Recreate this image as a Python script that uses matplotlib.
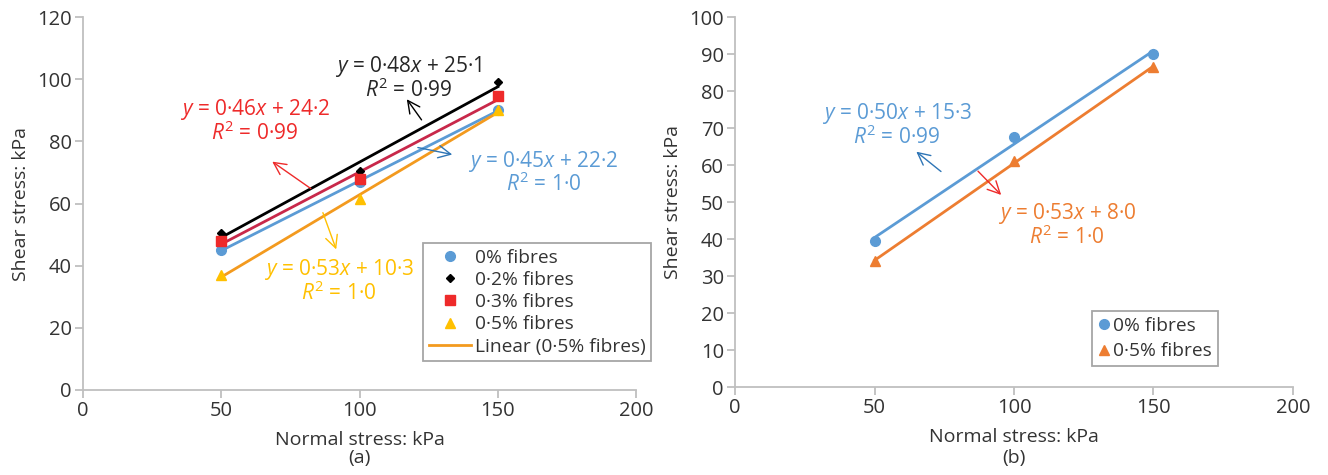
#! /usr/bin/env python3
'''
Shear stress against normal stress, two panels (a) and (b)
'''

import numpy as np
import matplotlib.pyplot as plt

plt.rcParams['font.family'] = ['Open Sans', 'DejaVu Sans']
plt.rcParams['mathtext.fontset'] = 'custom'
plt.rcParams['mathtext.rm'] = 'Open Sans'
plt.rcParams['mathtext.it'] = 'Open Sans:italic'

normal_stress = [50, 100, 150]

# panel (a)
shear_0 = [45.0, 67.0, 90.0]
shear_02 = [50.5, 70.5, 99.0]
shear_03 = [48.0, 68.0, 94.5]
shear_05 = [37.0, 61.5, 90.0]

# panel (b)
shear_b_0 = [39.5, 67.5, 90.0]
shear_b_05 = [34.0, 61.0, 86.5]

BLUE = '#5B9BD5'
GOLD = '#FFC000'
ORANGE = '#F39A1E'
RED = '#EE2A2A'
TICK_GREY = '#BFBFBF'
TEXT = '#333333'
FS_TICK = 14.5
FS_LABEL = 14
FS_EQ = 15
FS_LEG = 13.8


def trend(ax, x, y, color, lw=2.0, label=None):
    m, c = np.polyfit(x, y, 1)
    xs = np.array([min(x), max(x)])
    ax.plot(xs, m * xs + c, color=color, lw=lw, label=label, zorder=2)


def style_axes(ax, ymax, ystep):
    for s in ['top', 'right']:
        ax.spines[s].set_visible(False)
    for s in ['left', 'bottom']:
        ax.spines[s].set_color(TICK_GREY)
        ax.spines[s].set_linewidth(1.3)
    ax.set_xlim(0, 200)
    ax.set_ylim(0, ymax)
    ax.set_xticks(range(0, 201, 50))
    ax.set_yticks(range(0, ymax + 1, ystep))
    ax.tick_params(colors=TICK_GREY, labelcolor=TEXT, labelsize=FS_TICK,
                   length=6, width=1.3, pad=2)
    ax.set_xlabel('Normal stress: kPa', fontsize=FS_LABEL, color=TEXT,
                  labelpad=7)
    ax.set_ylabel('Shear stress: kPa', fontsize=FS_LABEL, color=TEXT,
                  labelpad=5)


def equation(ax, x, y, eq, r2, color, arrow, acolor):
    ax.text(x, y, eq + '\n' + r2, color=color, fontsize=FS_EQ,
            ha='center', va='center', multialignment='center',
            linespacing=0.95)
    ax.annotate('', xy=arrow[1], xytext=arrow[0],
                arrowprops=dict(arrowstyle='->', color=acolor, lw=1.0,
                                mutation_scale=22))


fig = plt.figure(figsize=(13.28, 4.75), dpi=100)
ax1 = fig.add_axes([0.0625, 0.179, 0.4165, 0.785])
ax2 = fig.add_axes([0.5535, 0.185, 0.4201, 0.779])

# ---- panel (a)
trend(ax1, normal_stress, shear_0, BLUE)
trend(ax1, normal_stress, shear_05, ORANGE, label='Linear (0·5% fibres)')
trend(ax1, normal_stress, shear_03, '#C8284A')
trend(ax1, normal_stress, shear_02, 'black')
ax1.plot(normal_stress, shear_0, 'o', color=BLUE, ms=7,
         label='0% fibres', zorder=3)
ax1.plot(normal_stress, shear_02, 'D', color='black', ms=4.5,
         label='0·2% fibres', zorder=3)
ax1.plot(normal_stress, shear_03, 's', color=RED, ms=7,
         label='0·3% fibres', zorder=3)
ax1.plot(normal_stress, shear_05, '^', color=GOLD, ms=7.5,
         label='0·5% fibres', zorder=3)
style_axes(ax1, 120, 20)

equation(ax1, 117.8, 100.4, r'$\mathit{y}$ = 0·48$\mathit{x}$ + 25·1',
         r'$\mathit{R}^{2}$ = 0·99', '#262626',
         ((123.0, 86.2), (116.5, 94.3)), 'black')
equation(ax1, 62.2, 86.6, r'$\mathit{y}$ = 0·46$\mathit{x}$ + 24·2',
         r'$\mathit{R}^{2}$ = 0·99', RED,
         ((83.2, 64.3), (67.6, 74.0)), RED)
equation(ax1, 166.5, 70.0, r'$\mathit{y}$ = 0·45$\mathit{x}$ + 22·2',
         r'$\mathit{R}^{2}$ = 1·0', BLUE,
         ((120.1, 78.2), (134.5, 75.6)), '#2E75B6')
equation(ax1, 92.5, 35.1, r'$\mathit{y}$ = 0·53$\mathit{x}$ + 10·3',
         r'$\mathit{R}^{2}$ = 1·0', GOLD,
         ((86.4, 57.9), (91.9, 44.4)), GOLD)

handles, labels = ax1.get_legend_handles_labels()
order = ['0% fibres', '0·2% fibres', '0·3% fibres', '0·5% fibres',
         'Linear (0·5% fibres)']
hl = dict(zip(labels, handles))
leg1 = fig.legend([hl[k] for k in order], order, loc='upper left',
                  bbox_to_anchor=(0.3185, 0.4884), fontsize=FS_LEG,
                  fancybox=False, edgecolor='#A6A6A6', framealpha=1,
                  handlelength=2.2, handletextpad=0.2, borderpad=0.3,
                  labelspacing=0.22, borderaxespad=0)
leg1.get_frame().set_linewidth(1.3)
for t in leg1.get_texts():
    t.set_color(TEXT)
fig.text(0.271, 0.036, '(a)', fontsize=FS_LABEL, color=TEXT,
         ha='center', va='center')

# ---- panel (b)
trend(ax2, normal_stress, shear_b_0, BLUE)
trend(ax2, normal_stress, shear_b_05, '#ED7D31')
ax2.plot(normal_stress, shear_b_0, 'o', color=BLUE, ms=7,
         label='0% fibres', zorder=3)
ax2.plot(normal_stress, shear_b_05, '^', color='#ED7D31', ms=7.5,
         label='0·5% fibres', zorder=3)
style_axes(ax2, 100, 10)

equation(ax2, 58.0, 70.9, r'$\mathit{y}$ = 0·50$\mathit{x}$ + 15·3',
         r'$\mathit{R}^{2}$ = 0·99', BLUE,
         ((74.6, 57.8), (64.2, 64.1)), '#2E75B6')
equation(ax2, 119.0, 43.8, r'$\mathit{y}$ = 0·53$\mathit{x}$ + 8·0',
         r'$\mathit{R}^{2}$ = 1·0', '#ED7D31',
         ((86.4, 58.9), (96.1, 51.4)), RED)

leg2 = fig.legend(*ax2.get_legend_handles_labels(), loc='upper left',
                  bbox_to_anchor=(0.8223, 0.3453), fontsize=FS_LEG,
                  fancybox=False, edgecolor='#A6A6A6', framealpha=1,
                  handlelength=0.6, handletextpad=0.2, borderpad=0.3,
                  labelspacing=0.4, borderaxespad=0)
leg2.get_frame().set_linewidth(1.3)
for t in leg2.get_texts():
    t.set_color(TEXT)
fig.text(0.7635, 0.036, '(b)', fontsize=FS_LABEL, color=TEXT,
         ha='center', va='center')

fig.savefig('out.png', dpi=100)
